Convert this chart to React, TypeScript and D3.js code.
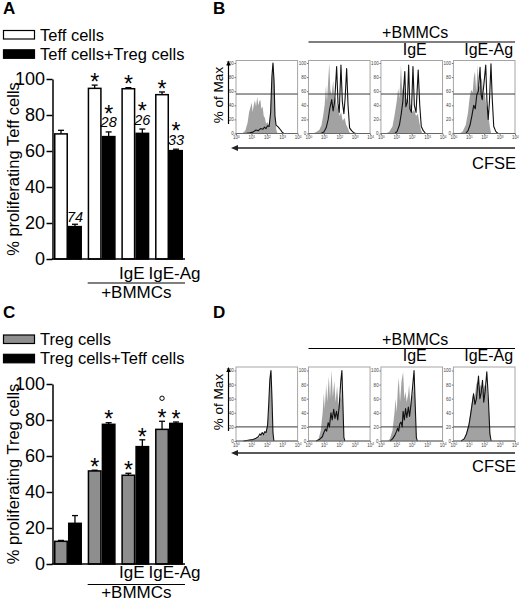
import * as d3 from 'd3';
import React, { FC, useEffect, useRef } from 'react';

type Pt = [number, number];

const FONT = '"Liberation Sans", Arial, Helvetica, sans-serif';

// bar charts (A, C)
const groups = ['medium', 'BMMCs', 'BMMCs+IgE', 'BMMCs+IgE-Ag'];
const groupLabels = ['', '', 'IgE', 'IgE-Ag'];
const barTicks = [0, 20, 40, 60, 80, 100];

const teffAlone = [69.5, 94.8, 94.6, 91.3];
const teffAloneSem = [2.0, 1.8, 0.6, 1.5];
const teffWithTreg = [18.0, 68.0, 69.8, 60.2];
const teffWithTregSem = [1.3, 2.6, 2.4, 0.8];
const teffAloneSig = [false, true, true, true];
const teffWithTregSig = [false, true, true, true];
const suppression = ['74', '28', '26', '33'];

const tregAlone = [12.6, 51.7, 49.3, 74.8];
const tregAloneSem = [0.5, 0.4, 1.1, 4.5];
const tregWithTeff = [22.6, 77.6, 65.2, 78.1];
const tregWithTeffSem = [4.3, 0.9, 3.8, 0.8];
const tregAloneSig = [false, true, true, true];
const tregWithTeffSig = [false, true, true, true];
const tregVsIgE = [false, false, false, true];

// CFSE histograms (B, D): [log10 CFSE, % of max]
const histPanels = ['medium', 'BMMCs', 'IgE', 'IgE-Ag'];
const cfseTicks = [0, 1, 2, 3, 4];
const maxTicks = [0, 20, 40, 60, 80, 100];
const teffGate = 56;
const tregGate = 20;

const teffShaded: Pt[][] = [
  [[0.4, 0], [0.6, 4], [0.75, 15], [0.85, 30], [0.95, 38], [1.02, 44], [1.08, 30], [1.15, 40], [1.23, 47], [1.3, 38], [1.38, 52], [1.45, 40], [1.52, 46], [1.58, 48], [1.65, 35], [1.73, 38], [1.8, 25], [1.88, 22], [1.95, 14], [2.05, 16], [2.12, 12], [2.2, 18], [2.3, 60], [2.38, 95], [2.43, 100], [2.48, 70], [2.55, 20], [2.62, 5], [2.7, 0]],
  [[0.3, 0], [0.5, 2], [0.7, 5], [0.85, 12], [0.95, 25], [1.05, 40], [1.14, 68], [1.2, 45], [1.28, 75], [1.35, 100], [1.42, 62], [1.5, 55], [1.61, 75], [1.68, 45], [1.76, 52], [1.85, 35], [1.94, 42], [2.02, 25], [2.12, 30], [2.22, 18], [2.35, 22], [2.45, 12], [2.55, 8], [2.65, 2], [2.75, 0]],
  [[0.35, 0], [0.55, 3], [0.75, 10], [0.9, 28], [1.02, 45], [1.12, 64], [1.2, 50], [1.3, 97], [1.38, 60], [1.46, 70], [1.55, 58], [1.65, 48], [1.75, 52], [1.85, 38], [1.95, 42], [2.05, 30], [2.15, 34], [2.28, 25], [2.4, 28], [2.5, 15], [2.6, 5], [2.7, 0]],
  [[0.4, 0], [0.6, 3], [0.8, 12], [0.95, 30], [1.05, 50], [1.15, 62], [1.25, 58], [1.33, 80], [1.4, 88], [1.48, 60], [1.58, 96], [1.66, 65], [1.75, 70], [1.85, 80], [1.93, 52], [2.02, 60], [2.12, 42], [2.22, 35], [2.3, 20], [2.38, 8], [2.45, 0]]
];

const teffOpen: Pt[][] = [
  [[0.6, 0], [0.9, 1], [1.1, 2], [1.3, 5], [1.45, 4], [1.6, 7], [1.75, 6], [1.85, 9], [1.95, 7], [2.05, 11], [2.15, 10], [2.25, 30], [2.33, 80], [2.4, 100], [2.47, 75], [2.53, 25], [2.6, 12], [2.75, 9], [2.9, 5], [3.0, 2], [3.1, 0]],
  [[0.8, 0], [1.0, 2], [1.15, 8], [1.28, 20], [1.38, 35], [1.51, 48], [1.6, 32], [1.7, 45], [1.83, 95], [1.92, 42], [2.0, 30], [2.11, 97], [2.2, 45], [2.3, 28], [2.38, 50], [2.48, 92], [2.57, 40], [2.67, 8], [2.8, 4], [2.95, 1], [3.05, 0]],
  [[0.9, 0], [1.05, 3], [1.2, 12], [1.32, 28], [1.42, 45], [1.55, 88], [1.62, 38], [1.72, 45], [1.8, 97], [1.88, 35], [1.98, 30], [2.08, 95], [2.17, 40], [2.28, 30], [2.42, 90], [2.52, 40], [2.62, 10], [2.75, 4], [2.9, 0]],
  [[0.8, 0], [0.95, 4], [1.08, 12], [1.2, 25], [1.32, 40], [1.42, 35], [1.52, 55], [1.62, 60], [1.73, 94], [1.8, 55], [1.87, 48], [1.98, 70], [2.1, 97], [2.18, 45], [2.26, 20], [2.34, 45], [2.44, 99], [2.52, 50], [2.62, 10], [2.75, 3], [2.9, 0]]
];

const tregShaded: Pt[][] = [
  [[0.3, 0], [0.6, 1], [0.9, 2], [1.2, 3], [1.4, 4], [1.55, 6], [1.7, 8], [1.85, 11], [1.95, 14], [2.05, 22], [2.12, 45], [2.2, 85], [2.27, 100], [2.33, 70], [2.4, 15], [2.45, 0]],
  [[0.5, 0], [0.65, 3], [0.8, 15], [0.92, 40], [1.0, 68], [1.06, 45], [1.15, 80], [1.22, 55], [1.32, 92], [1.4, 60], [1.5, 100], [1.58, 62], [1.68, 85], [1.76, 55], [1.86, 78], [1.95, 50], [2.05, 65], [2.12, 58], [2.18, 96], [2.25, 40], [2.3, 0]],
  [[0.4, 0], [0.58, 3], [0.75, 15], [0.88, 40], [0.95, 60], [1.02, 40], [1.1, 75], [1.16, 90], [1.24, 55], [1.34, 85], [1.44, 98], [1.52, 60], [1.6, 70], [1.67, 55], [1.76, 65], [1.83, 80], [1.92, 50], [2.02, 62], [2.1, 70], [2.16, 98], [2.24, 40], [2.3, 0]],
  [[0.5, 0], [0.7, 4], [0.85, 12], [1.0, 25], [1.1, 40], [1.2, 55], [1.3, 70], [1.38, 60], [1.48, 80], [1.58, 85], [1.66, 75], [1.76, 80], [1.85, 70], [1.95, 75], [2.05, 80], [2.15, 78], [2.25, 60], [2.35, 30], [2.4, 0]]
];

const tregOpen: Pt[][] = [
  [[0.5, 0], [0.8, 1], [1.1, 2], [1.3, 4], [1.45, 6], [1.55, 10], [1.62, 8], [1.7, 12], [1.78, 9], [1.86, 13], [1.95, 12], [2.05, 22], [2.12, 50], [2.2, 88], [2.27, 100], [2.33, 65], [2.4, 12], [2.46, 0]],
  [[0.5, 0], [0.7, 2], [0.9, 6], [1.0, 12], [1.1, 17], [1.18, 14], [1.28, 26], [1.36, 20], [1.46, 40], [1.54, 30], [1.64, 45], [1.72, 32], [1.82, 42], [1.9, 30], [2.0, 50], [2.1, 85], [2.17, 100], [2.24, 50], [2.3, 5], [2.36, 0]],
  [[0.6, 0], [0.75, 3], [0.9, 8], [1.02, 14], [1.08, 18], [1.15, 14], [1.22, 24], [1.3, 27], [1.38, 20], [1.44, 42], [1.52, 30], [1.6, 46], [1.68, 33], [1.78, 48], [1.86, 35], [1.95, 52], [2.05, 75], [2.15, 100], [2.22, 55], [2.3, 5], [2.36, 0]],
  [[0.5, 0], [0.7, 3], [0.85, 10], [1.0, 22], [1.1, 35], [1.2, 50], [1.31, 67], [1.4, 52], [1.5, 60], [1.63, 92], [1.72, 60], [1.8, 68], [1.89, 86], [1.97, 55], [2.06, 70], [2.17, 98], [2.27, 60], [2.37, 10], [2.45, 0]]
];

interface BarPanel {
  letter: string;
  top: number;
  legend: [string, string];
  fills: [string, string];
  yLabel: string;
  y100: number;
  y0: number;
  values: [number[], number[]];
  sems: [number[], number[]];
  sig: [boolean[], boolean[]];
  numbers?: string[];
  circles?: boolean[];
  labelY: number;
  lineY: number;
  bmmcY: number;
}

interface HistRow {
  letter: string;
  letterY: number;
  bmmcY: number;
  lineY: number;
  igeY: number;
  boxTop: number;
  y100: number;
  y0: number;
  gate: number;
  shaded: Pt[][];
  open: Pt[][];
  arrowY: number;
  cfseY: number;
}

const panelA: BarPanel = {
  letter: 'A', top: 13.5, legend: ['Teff cells', 'Teff cells+Treg cells'], fills: ['#fff', '#000'],
  yLabel: '% proliferating Teff cells', y100: 79, y0: 259,
  values: [teffAlone, teffWithTreg], sems: [teffAloneSem, teffWithTregSem], sig: [teffAloneSig, teffWithTregSig],
  numbers: suppression, labelY: 279, lineY: 283, bmmcY: 298
};

const panelC: BarPanel = {
  letter: 'C', top: 318, legend: ['Treg cells', 'Treg cells+Teff cells'], fills: ['#8e8e8e', '#000'],
  yLabel: '% proliferating Treg cells', y100: 384, y0: 564,
  values: [tregAlone, tregWithTeff], sems: [tregAloneSem, tregWithTeffSem], sig: [tregAloneSig, tregWithTeffSig],
  circles: tregVsIgE, labelY: 578, lineY: 584.5, bmmcY: 598
};

const panelB: HistRow = {
  letter: 'B', letterY: 13.5, bmmcY: 38.3, lineY: 42, igeY: 55, boxTop: 60.5, y100: 63, y0: 133.5,
  gate: teffGate, shaded: teffShaded, open: teffOpen, arrowY: 148, cfseY: 169
};

const panelD: HistRow = {
  letter: 'D', letterY: 318, bmmcY: 345, lineY: 348.5, igeY: 361, boxTop: 367, y100: 370.5, y0: 441,
  gate: tregGate, shaded: tregShaded, open: tregOpen, arrowY: 453, cfseY: 472
};

const drawBarPanel = (svg: d3.Selection<SVGSVGElement, unknown, null, undefined>, c: BarPanel) => {
  const g = svg.append('g');
  const axisX = 52.5;
  const x = d3.scaleBand<string>().domain(groups).range([54, 183]).paddingInner(0.17).paddingOuter(0);
  const xs = d3.scaleBand<number>().domain([0, 1]).range([0, x.bandwidth()]);
  const y = d3.scaleLinear().domain([0, 100]).range([c.y0, c.y100]);

  g.append('text').attr('x', 3).attr('y', c.top).attr('font-size', 17).attr('font-weight', 'bold').text(c.letter);

  c.legend.forEach((name, i) => {
    const ly = c.top + 17 + i * 19.3;
    g.append('rect').attr('x', 3.5).attr('y', ly).attr('width', 31).attr('height', 8.5)
      .attr('fill', c.fills[i]).attr('stroke', '#000').attr('stroke-width', 1.2);
    g.append('text').attr('x', 40).attr('y', ly + 10).attr('font-size', 16.5).text(name);
  });

  g.append('text')
    .attr('transform', `translate(19, ${(c.y0 + c.y100) / 2}) rotate(-90)`)
    .attr('text-anchor', 'middle').attr('font-size', 16.5).text(c.yLabel);

  [0, 1].forEach((s) => {
    const bars = g.append('g');
    bars.selectAll('rect').data(c.values[s]).join('rect')
      .attr('x', (d, i) => x(groups[i])! + xs(s)! + 0.75)
      .attr('width', xs.bandwidth() - 1.5)
      .attr('y', (d) => y(d))
      .attr('height', (d) => y(0) - y(d))
      .attr('fill', c.fills[s]).attr('stroke', '#000').attr('stroke-width', 1.5);

    c.values[s].forEach((v, i) => {
      const cx = x(groups[i])! + xs(s)! + xs.bandwidth() / 2;
      const top = y(v + c.sems[s][i]);
      bars.append('line').attr('x1', cx).attr('x2', cx).attr('y1', y(v)).attr('y2', top).attr('stroke', '#000').attr('stroke-width', 1.3);
      bars.append('line').attr('x1', cx - 3).attr('x2', cx + 3).attr('y1', top).attr('y2', top).attr('stroke', '#000').attr('stroke-width', 1.3);

      const withNumber = c.numbers && s === 1;
      if (withNumber) {
        g.append('text').attr('x', cx).attr('y', top - (i === 0 ? 2.5 : 4.5)).attr('text-anchor', 'middle')
          .attr('font-size', 14.5).attr('font-style', 'italic').text(c.numbers![i]);
      }
      if (c.sig[s][i]) {
        const centre = top - (withNumber ? 23.5 : 8.5);
        g.append('text').attr('x', cx).attr('y', centre + 13.2).attr('text-anchor', 'middle')
          .attr('font-size', 23).text('*');
      }
      if (c.circles && s === 0 && c.circles[i]) {
        g.append('circle').attr('cx', cx).attr('cy', top - 23).attr('r', 2.2)
          .attr('fill', 'none').attr('stroke', '#000').attr('stroke-width', 1);
      }
    });
  });

  const axis = g.append('g').attr('transform', `translate(${axisX},0)`)
    .call(d3.axisLeft(y).tickValues(barTicks).tickSize(6).tickSizeOuter(0).tickPadding(1.5));
  axis.attr('font-size', 18).attr('font-family', FONT);
  axis.select('.domain').attr('stroke-width', 1.5);
  axis.selectAll('.tick line').attr('stroke-width', 1.5);
  axis.selectAll('.tick text').attr('fill', '#000');

  g.append('line').attr('x1', axisX - 0.75).attr('x2', x.range()[1] + 2).attr('y1', y(0)).attr('y2', y(0))
    .attr('stroke', '#000').attr('stroke-width', 1.5);

  groupLabels.forEach((label, i) => {
    if (!label) return;
    g.append('text').attr('x', x(groups[i])! + x.bandwidth() / 2 + (i === 3 ? 5.5 : -3.5)).attr('y', c.labelY)
      .attr('text-anchor', 'middle').attr('font-size', 17).text(label);
  });
  const lx1 = x(groups[1])!;
  const lx2 = x(groups[3])! + x.bandwidth() + 2;
  g.append('line').attr('x1', lx1).attr('x2', lx2).attr('y1', c.lineY).attr('y2', c.lineY).attr('stroke', '#000').attr('stroke-width', 1.2);
  g.append('text').attr('x', (lx1 + lx2) / 2).attr('y', c.bmmcY).attr('text-anchor', 'middle').attr('font-size', 17).text('+BMMCs');
};

const drawHistRow = (svg: d3.Selection<SVGSVGElement, unknown, null, undefined>, c: HistRow) => {
  const g = svg.append('g');
  const px = d3.scaleBand<string>().domain(histPanels).range([236, 515]).paddingInner(0.15).paddingOuter(0);
  const y = d3.scaleLinear().domain([0, 100]).range([c.y0, c.y100]);
  const bw = px.bandwidth();

  g.append('text').attr('x', 213).attr('y', c.letterY).attr('font-size', 17).attr('font-weight', 'bold').text(c.letter);

  histPanels.forEach((p, i) => {
    const left = px(p)!;
    const x = d3.scaleLinear().domain([0, 4]).range([left, left + bw]);
    const pg = g.append('g');

    pg.append('rect').attr('x', left).attr('y', c.boxTop).attr('width', bw).attr('height', c.y0 - c.boxTop)
      .attr('fill', '#fff').attr('stroke', '#a5a5a5').attr('stroke-width', 1);

    const area = d3.area<Pt>().x((d) => x(d[0])).y0(y(0)).y1((d) => y(d[1]));
    pg.append('path').attr('d', area(c.shaded[i])).attr('fill', '#a2a2a2');

    pg.append('line').attr('x1', left).attr('x2', left + bw).attr('y1', y(c.gate)).attr('y2', y(c.gate))
      .attr('stroke', '#3a3a3a').attr('stroke-width', 1);

    const line = d3.line<Pt>().x((d) => x(d[0])).y((d) => y(d[1]));
    pg.append('path').attr('d', line(c.open[i])).attr('fill', 'none').attr('stroke', '#111')
      .attr('stroke-width', 1.1).attr('stroke-linejoin', 'round');

    pg.append('line').attr('x1', left).attr('x2', left + bw).attr('y1', y(0)).attr('y2', y(0))
      .attr('stroke', '#666').attr('stroke-width', 1);

    const ya = pg.append('g').attr('transform', `translate(${left},0)`)
      .call(d3.axisLeft(y).tickValues(maxTicks).tickSize(1.5).tickPadding(0.8).tickSizeOuter(0));
    ya.select('.domain').remove();
    ya.attr('font-size', 4.5).attr('font-family', FONT);
    ya.selectAll('.tick line').attr('stroke', '#777');
    ya.selectAll('.tick text').attr('fill', '#444');

    const xa = pg.append('g').attr('transform', `translate(0,${c.y0})`)
      .call(d3.axisBottom(x).tickValues(cfseTicks).tickSize(1.5).tickPadding(1).tickSizeOuter(0).tickFormat(() => ''));
    xa.select('.domain').remove();
    xa.attr('font-size', 4.5).attr('font-family', FONT);
    xa.selectAll('.tick line').attr('stroke', '#777');
    xa.selectAll<SVGTextElement, number>('.tick text').attr('fill', '#444').each(function (d) {
      const t = d3.select(this);
      t.append('tspan').text('10');
      t.append('tspan').attr('dy', '-0.4em').attr('font-size', 3.2).text(String(d));
    });
  });

  // "% of Max" with upward arrow
  const yc = (c.boxTop + c.y0) / 2 - 2;
  g.append('text').attr('transform', `translate(222.5, ${yc}) rotate(-90)`).attr('text-anchor', 'middle')
    .attr('font-size', 13.5).text('% of Max');
  g.append('line').attr('x1', 228.5).attr('x2', 228.5).attr('y1', yc + 29).attr('y2', c.boxTop + 3)
    .attr('stroke', '#000').attr('stroke-width', 1.2);
  g.append('path').attr('d', `M228.5,${c.boxTop} L226.3,${c.boxTop + 5} L230.7,${c.boxTop + 5} Z`).attr('fill', '#000');

  // header
  const x1 = px(histPanels[1])!;
  const x2 = px(histPanels[3])! + bw;
  g.append('text').attr('x', (x1 + x2) / 2 + 3.5).attr('y', c.bmmcY).attr('text-anchor', 'middle').attr('font-size', 16).text('+BMMCs');
  g.append('line').attr('x1', x1).attr('x2', x2).attr('y1', c.lineY).attr('y2', c.lineY).attr('stroke', '#000').attr('stroke-width', 1.2);
  g.append('text').attr('x', px(histPanels[2])! + bw / 2 + 3).attr('y', c.igeY).attr('text-anchor', 'middle').attr('font-size', 16).text('IgE');
  g.append('text').attr('x', px(histPanels[3])! + bw / 2 + 4.5).attr('y', c.igeY).attr('text-anchor', 'middle').attr('font-size', 16).text('IgE-Ag');

  // CFSE axis arrow
  g.append('line').attr('x1', 234).attr('x2', x2).attr('y1', c.arrowY).attr('y2', c.arrowY).attr('stroke', '#222').attr('stroke-width', 1.5);
  g.append('path').attr('d', `M231,${c.arrowY} L238,${c.arrowY - 3} L238,${c.arrowY + 3} Z`).attr('fill', '#222');
  g.append('text').attr('x', 516).attr('y', c.cfseY).attr('text-anchor', 'end').attr('font-size', 16.5).text('CFSE');
};

const App: FC = (): JSX.Element => {
  const ref = useRef<SVGSVGElement>(null);

  useEffect(() => {
    if (!ref.current) return;
    const svg = d3.select(ref.current);
    svg.selectAll('*').remove();
    drawBarPanel(svg, panelA);
    drawBarPanel(svg, panelC);
    drawHistRow(svg, panelB);
    drawHistRow(svg, panelD);
  }, []);

  return (
    <svg
      ref={ref}
      width={520}
      height={602}
      fontFamily={FONT}
      style={{ position: 'absolute', left: 0, top: 0, background: '#fff' }}
    />
  );
};

export default App;
